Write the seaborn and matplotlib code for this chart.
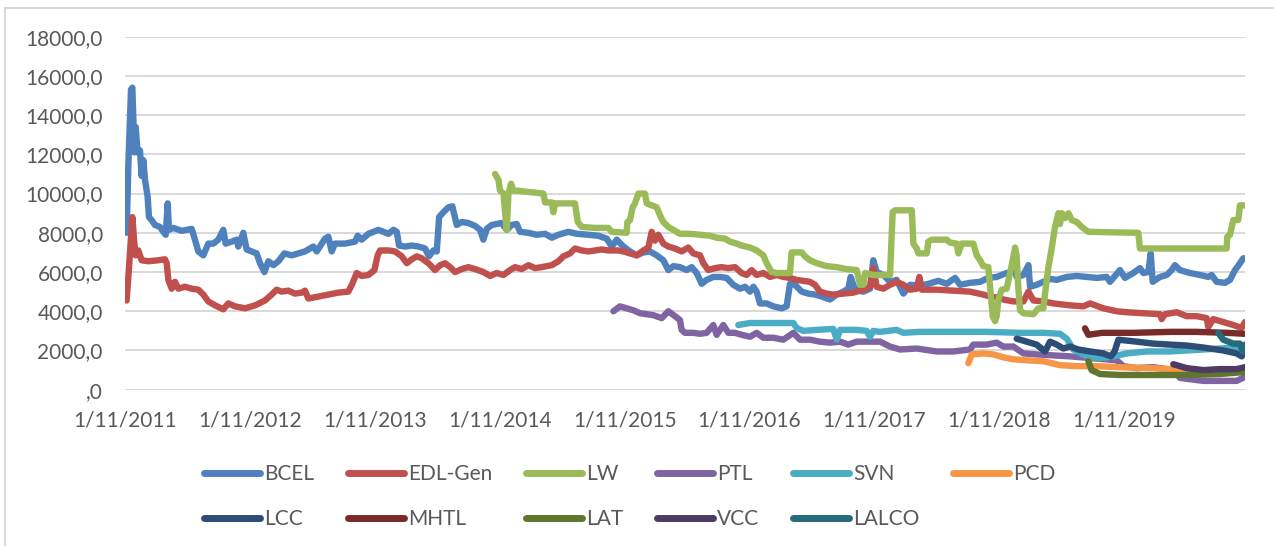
import pandas as pd
import seaborn as sns
import matplotlib.pyplot as plt
from matplotlib.lines import Line2D

# share prices, x in decimal years
bcel_t = [2011.040, 2011.054, 2011.075, 2011.086, 2011.102, 2011.112, 2011.128, 2011.147, 2011.160, 2011.174,
          2011.187, 2011.208, 2011.219, 2011.240, 2011.267, 2011.307, 2011.334, 2011.353, 2011.369, 2011.379,
          2011.414, 2011.481, 2011.561, 2011.587, 2011.614, 2011.654, 2011.694, 2011.734, 2011.774, 2011.814,
          2011.833, 2011.881, 2011.921, 2011.934, 2011.974, 2012.001, 2012.041, 2012.081, 2012.108, 2012.143,
          2012.175, 2012.215, 2012.255, 2012.303, 2012.361, 2012.415, 2012.468, 2012.535, 2012.562, 2012.628,
          2012.655, 2012.682, 2012.708, 2012.788, 2012.869, 2012.890, 2012.922, 2012.976, 2013.016, 2013.056,
          2013.096, 2013.136, 2013.176, 2013.203, 2013.221, 2013.269, 2013.323, 2013.376, 2013.429, 2013.461,
          2013.496, 2013.523, 2013.542, 2013.576, 2013.616, 2013.648, 2013.683, 2013.723, 2013.776, 2013.830,
          2013.870, 2013.896, 2013.923, 2013.963, 2014.003, 2014.043, 2014.083, 2014.123, 2014.163, 2014.190,
          2014.257, 2014.323, 2014.390, 2014.444, 2014.497, 2014.577, 2014.644, 2014.737, 2014.817, 2014.884,
          2014.924, 2014.964, 2015.017, 2015.070, 2015.124, 2015.177, 2015.230, 2015.284, 2015.337, 2015.377,
          2015.417, 2015.470, 2015.524, 2015.564, 2015.604, 2015.644, 2015.684, 2015.737, 2015.791, 2015.844,
          2015.897, 2015.951, 2015.991, 2016.031, 2016.058, 2016.084, 2016.111, 2016.164, 2016.218, 2016.284,
          2016.324, 2016.351, 2016.391, 2016.445, 2016.498, 2016.551, 2016.605, 2016.671, 2016.725, 2016.778,
          2016.818, 2016.837, 2016.872, 2016.938, 2016.992, 2017.018, 2017.045, 2017.099, 2017.152, 2017.205,
          2017.259, 2017.312, 2017.392, 2017.459, 2017.539, 2017.606, 2017.673, 2017.713, 2017.793, 2017.873,
          2017.939, 2018.006, 2018.046, 2018.086, 2018.126, 2018.140, 2018.166, 2018.220, 2018.260, 2018.273,
          2018.326, 2018.380, 2018.433, 2018.487, 2018.567, 2018.647, 2018.727, 2018.807, 2018.887, 2018.913,
          2018.993, 2019.033, 2019.100, 2019.153, 2019.180, 2019.220, 2019.239, 2019.255, 2019.313, 2019.367,
          2019.407, 2019.433, 2019.473, 2019.554, 2019.634, 2019.700, 2019.727, 2019.767, 2019.834, 2019.874,
          2019.914, 2019.954, 2019.980, 2019.994]
bcel_v = [8000, 11500, 15300, 15400, 12100, 13400, 12100, 12200, 10900, 11700,
          10700, 9850, 8800, 8650, 8400, 8300, 8050, 7900, 9500, 8150,
          8250, 8100, 8200, 7650, 7050, 6850, 7450, 7450, 7650, 8150,
          7450, 7550, 7650, 7300, 8000, 7150, 7050, 6950, 6450, 6000,
          6550, 6350, 6550, 6950, 6850, 6950, 7050, 7300, 7050, 7700,
          7800, 7050, 7450, 7450, 7550, 7850, 7650, 7950, 8050, 8150,
          8050, 7950, 8150, 8050, 7350, 7300, 7350, 7300, 7200, 6800,
          7100, 7050, 8800, 9050, 9300, 9350, 8400, 8550, 8500, 8350,
          8150, 7650, 8200, 8400, 8450, 8500, 8150, 8400, 8450, 8050,
          8000, 7900, 7950, 7750, 7900, 8050, 7950, 7900, 7850, 7700,
          7300, 7650, 7300, 7050, 6850, 7000, 7050, 6850, 6600, 6100,
          6300, 6250, 6100, 6250, 5950, 5400, 5600, 5750, 5750, 5700,
          5350, 5150, 5250, 5000, 5250, 5000, 4400, 4400, 4250, 4150,
          4250, 5400, 5350, 5000, 4900, 4850, 4750, 4600, 4850, 5000,
          5150, 5750, 5100, 5000, 5150, 6600, 6000, 5850, 5500, 5600,
          4900, 5350, 5300, 5400, 5550, 5400, 5700, 5350, 5450, 5500,
          5700, 5750, 5850, 5950, 6000, 6450, 5750, 5850, 6350, 5250,
          5350, 5500, 5650, 5600, 5750, 5800, 5750, 5700, 5750, 5500,
          6100, 5700, 5950, 6200, 5950, 6000, 6950, 5500, 5750, 5850,
          6100, 6350, 6100, 5950, 5850, 5750, 5850, 5500, 5450, 5600,
          6100, 6450, 6700, 6700]

edl_t = [2011.040, 2011.054, 2011.075, 2011.086, 2011.102, 2011.112, 2011.134, 2011.160, 2011.214, 2011.294,
         2011.347, 2011.361, 2011.374, 2011.401, 2011.427, 2011.454, 2011.507, 2011.561, 2011.614, 2011.654,
         2011.694, 2011.748, 2011.814, 2011.854, 2011.908, 2011.988, 2012.068, 2012.148, 2012.201, 2012.241,
         2012.281, 2012.335, 2012.388, 2012.441, 2012.468, 2012.495, 2012.575, 2012.655, 2012.735, 2012.815,
         2012.847, 2012.882, 2012.922, 2012.976, 2013.024, 2013.050, 2013.069, 2013.136, 2013.189, 2013.243,
         2013.283, 2013.323, 2013.363, 2013.403, 2013.456, 2013.509, 2013.550, 2013.590, 2013.630, 2013.670,
         2013.723, 2013.776, 2013.830, 2013.896, 2013.950, 2014.003, 2014.057, 2014.110, 2014.150, 2014.203,
         2014.257, 2014.310, 2014.364, 2014.444, 2014.497, 2014.537, 2014.590, 2014.630, 2014.684, 2014.737,
         2014.791, 2014.844, 2014.897, 2014.977, 2015.017, 2015.070, 2015.124, 2015.177, 2015.217, 2015.244,
         2015.270, 2015.297, 2015.337, 2015.377, 2015.430, 2015.484, 2015.537, 2015.577, 2015.631, 2015.657,
         2015.697, 2015.751, 2015.804, 2015.857, 2015.911, 2015.964, 2016.004, 2016.044, 2016.084, 2016.138,
         2016.191, 2016.244, 2016.298, 2016.351, 2016.404, 2016.458, 2016.511, 2016.551, 2016.591, 2016.645,
         2016.698, 2016.778, 2016.858, 2016.938, 2016.992, 2017.018, 2017.045, 2017.099, 2017.152, 2017.205,
         2017.259, 2017.312, 2017.366, 2017.387, 2017.406, 2017.526, 2017.659, 2017.793, 2017.899, 2017.953,
         2018.006, 2018.060, 2018.140, 2018.220, 2018.260, 2018.300, 2018.380, 2018.460, 2018.593, 2018.700,
         2018.753, 2018.860, 2018.967, 2019.046, 2019.180, 2019.313, 2019.327, 2019.353, 2019.447, 2019.527,
         2019.607, 2019.687, 2019.700, 2019.740, 2019.820, 2019.900, 2019.967, 2019.994]
edl_v = [4550, 5750, 7800, 8800, 7450, 6850, 7100, 6600, 6550, 6600,
         6650, 6450, 5600, 5150, 5500, 5150, 5250, 5150, 5100, 4850,
         4500, 4300, 4100, 4400, 4250, 4150, 4300, 4550, 4850, 5100,
         5000, 5050, 4900, 4950, 5050, 4650, 4750, 4850, 4950, 5000,
         5400, 5950, 5800, 5850, 6100, 6850, 7100, 7100, 7050, 6800,
         6450, 6650, 6800, 6700, 6450, 6100, 6350, 6450, 6250, 6000,
         6150, 6250, 6150, 6000, 5800, 5950, 5850, 6100, 6250, 6150,
         6350, 6200, 6250, 6350, 6550, 6800, 6950, 7200, 7100, 7050,
         7100, 7150, 7100, 7100, 7050, 6950, 6850, 7100, 7250, 8050,
         7600, 7900, 7450, 7300, 7200, 7050, 7250, 6950, 6850, 6450,
         6100, 6200, 6250, 6200, 6250, 5950, 5850, 6100, 5850, 5950,
         5750, 5850, 5750, 5700, 5600, 5550, 5500, 5350, 5000, 4900,
         4850, 4900, 4950, 5100, 5250, 6200, 5250, 5150, 5350, 5500,
         5350, 5100, 5150, 5750, 5100, 5100, 5050, 5000, 4850, 4750,
         4700, 4600, 4500, 4500, 5000, 4550, 4500, 4400, 4300, 4250,
         4400, 4150, 4000, 3950, 3900, 3850, 3600, 3850, 3950, 3750,
         3750, 3650, 3200, 3600, 3450, 3300, 3150, 3450]

lw_t = [2013.990, 2014.017, 2014.030, 2014.057, 2014.083, 2014.097, 2014.118, 2014.137, 2014.177, 2014.230,
        2014.310, 2014.377, 2014.390, 2014.444, 2014.457, 2014.470, 2014.630, 2014.652, 2014.684, 2014.791,
        2014.897, 2014.924, 2015.043, 2015.049, 2015.070, 2015.091, 2015.110, 2015.137, 2015.190, 2015.204,
        2015.244, 2015.284, 2015.310, 2015.337, 2015.377, 2015.417, 2015.470, 2015.551, 2015.631, 2015.711,
        2015.764, 2015.831, 2015.871, 2015.924, 2015.964, 2016.031, 2016.084, 2016.138, 2016.164, 2016.204,
        2016.244, 2016.351, 2016.364, 2016.445, 2016.471, 2016.511, 2016.565, 2016.645, 2016.725, 2016.805,
        2016.885, 2016.912, 2016.938, 2016.952, 2017.018, 2017.152, 2017.173, 2017.192, 2017.326, 2017.339,
        2017.366, 2017.379, 2017.446, 2017.459, 2017.486, 2017.606, 2017.633, 2017.686, 2017.699, 2017.726,
        2017.819, 2017.846, 2017.873, 2017.899, 2017.939, 2017.958, 2017.974, 2017.993, 2018.006, 2018.019,
        2018.046, 2018.086, 2018.113, 2018.134, 2018.153, 2018.166, 2018.180, 2018.193, 2018.220, 2018.300,
        2018.340, 2018.380, 2018.393, 2018.420, 2018.446, 2018.473, 2018.500, 2018.513, 2018.527, 2018.553,
        2018.580, 2018.607, 2018.647, 2018.687, 2018.740, 2019.140, 2019.153, 2019.847, 2019.852, 2019.874,
        2019.900, 2019.940, 2019.954, 2019.994]
lw_v = [11000, 10700, 10150, 10000, 8150, 10000, 10500, 10150, 10150, 10100,
        10050, 10000, 9550, 9550, 9050, 9500, 9500, 8550, 8300, 8250,
        8250, 8050, 8000, 8550, 8650, 9300, 9500, 10000, 10000, 9500,
        9400, 9300, 8900, 8550, 8300, 8150, 7950, 7950, 7900, 7850,
        7750, 7700, 7550, 7450, 7350, 7250, 7100, 6850, 6450, 6000,
        5950, 5950, 7000, 7000, 6800, 6600, 6450, 6300, 6250, 6150,
        6100, 5350, 5350, 5950, 5850, 5850, 9050, 9150, 9150, 7450,
        7200, 6950, 6950, 7550, 7650, 7650, 7500, 7450, 6950, 7450,
        7450, 6850, 6600, 6300, 6250, 4900, 3750, 3500, 3750, 4600,
        5100, 5150, 5950, 6600, 7250, 6800, 5100, 4050, 3900, 3850,
        4150, 4150, 4900, 6250, 7200, 8300, 9000, 8450, 9000, 8750,
        9000, 8650, 8550, 8300, 8050, 8000, 7200, 7200, 7800, 7900,
        8650, 8650, 9400, 9400]

ptl_t = [2014.937, 2014.990, 2015.043, 2015.097, 2015.150, 2015.204, 2015.257, 2015.324, 2015.377, 2015.430,
         2015.470, 2015.484, 2015.510, 2015.577, 2015.631, 2015.684, 2015.737, 2015.764, 2015.817, 2015.857,
         2015.911, 2015.964, 2016.031, 2016.084, 2016.138, 2016.218, 2016.298, 2016.378, 2016.431, 2016.511,
         2016.591, 2016.671, 2016.752, 2016.818, 2016.885, 2016.992, 2017.072, 2017.152, 2017.232, 2017.366,
         2017.526, 2017.659, 2017.793, 2017.819, 2017.926, 2018.006, 2018.060, 2018.140, 2018.220, 2018.326,
         2018.593, 2018.780, 2018.967, 2019.020, 2019.127, 2019.260, 2019.420, 2019.474, 2019.660, 2019.927,
         2019.994]
ptl_v = [4000, 4250, 4150, 4050, 3900, 3850, 3800, 3650, 4000, 3750,
         3550, 3050, 2900, 2900, 2850, 2900, 3300, 2800, 3300, 2900,
         2900, 2800, 2700, 2900, 2650, 2650, 2550, 2900, 2550, 2550,
         2450, 2400, 2450, 2300, 2450, 2450, 2450, 2200, 2050, 2100,
         1950, 1950, 2050, 2300, 2300, 2400, 2200, 2200, 1850, 1800,
         1700, 1600, 1500, 1200, 1100, 1150, 1000, 600, 450, 450,
         650]

svn_t = [2015.937, 2016.031, 2016.191, 2016.378, 2016.404, 2016.458, 2016.565, 2016.698, 2016.725, 2016.752,
         2016.885, 2016.965, 2016.992, 2017.018, 2017.072, 2017.205, 2017.259, 2017.392, 2017.659, 2017.926,
         2018.193, 2018.380, 2018.513, 2018.567, 2018.620, 2018.730, 2018.830, 2018.940, 2019.047, 2019.207,
         2019.394, 2019.661, 2019.927, 2019.994]
svn_v = [3300, 3400, 3400, 3400, 3150, 3000, 3050, 3100, 2550, 3050,
         3050, 3000, 2700, 3000, 2950, 3050, 2900, 2950, 2950, 2950,
         2900, 2900, 2850, 2600, 2050, 1700, 1600, 1700, 1850, 1950,
         1950, 2050, 2150, 2150]

pcd_t = [2017.779, 2017.806, 2017.899, 2017.979, 2018.060, 2018.140, 2018.246, 2018.380, 2018.513, 2018.647,
         2018.807, 2018.967, 2019.260, 2019.527, 2019.794, 2019.994]
pcd_v = [1350, 1800, 1850, 1800, 1650, 1550, 1500, 1450, 1250, 1200,
         1200, 1150, 1100, 1000, 950, 1000]

lcc_t = [2018.166, 2018.246, 2018.326, 2018.393, 2018.433, 2018.487, 2018.540, 2018.593, 2018.660, 2018.753,
         2018.860, 2018.920, 2018.950, 2018.980, 2019.127, 2019.260, 2019.394, 2019.530, 2019.661, 2019.820,
         2019.927, 2019.967, 2019.994]
lcc_v = [2600, 2450, 2300, 1950, 2450, 2300, 2100, 2200, 2050, 1950,
         1850, 1700, 1950, 2550, 2450, 2350, 2300, 2250, 2150, 2000,
         1850, 1700, 1950]

mhtl_t = [2018.713, 2018.740, 2018.850, 2019.100, 2019.400, 2019.600, 2019.850, 2019.994]
mhtl_v = [3130, 2800, 2900, 2900, 2950, 2950, 2900, 2850]

lat_t = [2018.740, 2018.766, 2018.833, 2018.993, 2019.260, 2019.530, 2019.790, 2019.994]
lat_v = [1450, 1000, 800, 750, 750, 750, 800, 900]

vcc_t = [2019.420, 2019.527, 2019.660, 2019.794, 2019.927, 2019.994]
vcc_v = [1300, 1100, 1000, 1050, 1050, 1150]

lalco_t = [2019.780, 2019.820, 2019.900, 2019.953, 2019.975, 2019.994]
lalco_v = [2900, 2550, 2350, 2350, 1950, 2300]

stocks = ["BCEL", "EDL-Gen", "LW", "PTL", "SVN", "PCD", "LCC", "MHTL", "LAT", "VCC", "LALCO"]
colors = ["#4F81BD", "#C0504D", "#9BBB59", "#8064A2", "#4BACC6", "#F79646",
          "#2C4D75", "#772C2A", "#5F7530", "#4D3B62", "#276A7C"]
ytick_labels = [",0", "2000,0", "4000,0", "6000,0", "8000,0", "10000,0",
                "12000,0", "14000,0", "16000,0", "18000,0"]
xtick_labels = ["1/11/2011", "1/11/2012", "1/11/2013", "1/11/2014", "1/11/2015",
                "1/11/2016", "1/11/2017", "1/11/2018", "1/11/2019"]

series = [(bcel_t, bcel_v), (edl_t, edl_v), (lw_t, lw_v), (ptl_t, ptl_v), (svn_t, svn_v),
          (pcd_t, pcd_v), (lcc_t, lcc_v), (mhtl_t, mhtl_v), (lat_t, lat_v), (vcc_t, vcc_v),
          (lalco_t, lalco_v)]
df = pd.concat([pd.DataFrame({"year": t, "price": v, "stock": name})
                for name, (t, v) in zip(stocks, series)], ignore_index=True)

sns.set_style("white")
plt.rcParams["font.family"] = ["Lato", "DejaVu Sans"]
grey = "#595959"

fig = plt.figure(figsize=(12.74, 5.46), dpi=100)
ax = fig.add_axes([125 / 1274, 1 - 389.7 / 546, 1120 / 1274, 353 / 546])

sns.lineplot(data=df, x="year", y="price", hue="stock", hue_order=stocks, palette=colors,
             estimator=None, linewidth=4.6, solid_capstyle="round", solid_joinstyle="round",
             legend=False, ax=ax)

ax.set_xlim(2011.027, 2019.994)
ax.set_ylim(0, 18000)
ax.set_yticks(range(0, 18001, 2000))
ax.set_yticklabels(ytick_labels)
ax.set_xticks([y + 10 / 365 for y in range(2011, 2020)])
ax.set_xticklabels(xtick_labels)
ax.grid(axis="y", color="#d9d9d9", linewidth=1.4)
ax.grid(axis="x", visible=False)
ax.set_axisbelow(True)
for s in ax.spines.values():
    s.set_visible(False)
ax.tick_params(axis="both", length=0, labelsize=15, colors=grey)
ax.tick_params(axis="y", pad=16)
ax.tick_params(axis="x", pad=15)
ax.set_xlabel("")
ax.set_ylabel("")

#legend, filled row by row like excel
handles = [Line2D([], [], color=c, lw=5) for c in colors]
order = [0, 6, 1, 7, 2, 8, 3, 9, 4, 10, 5]
fig.legend([handles[i] for i in order], [stocks[i] for i in order], ncol=6,
           loc="upper left", bbox_to_anchor=(204 / 1274, 1 - 464 / 546), frameon=False,
           fontsize=15, labelcolor=grey, handlelength=2.7, handletextpad=0.2,
           columnspacing=1.6, labelspacing=1.2, borderpad=0, borderaxespad=0)

# chart area border
fig.add_artist(Line2D([5 / 1274, 5 / 1274], [0, 1 - 8 / 546], transform=fig.transFigure,
                      color="#d9d9d9", lw=1.5))
fig.add_artist(Line2D([5 / 1274, 1], [1 - 8 / 546, 1 - 8 / 546], transform=fig.transFigure,
                      color="#d9d9d9", lw=1.5))

fig.savefig("out.png", dpi=100)
